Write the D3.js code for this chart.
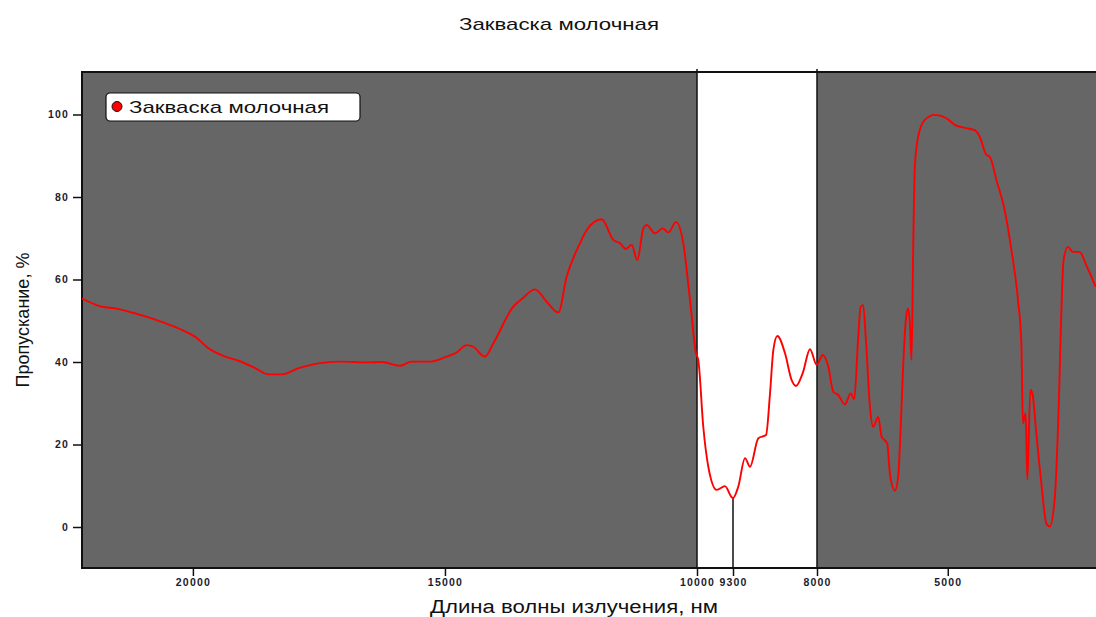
<!DOCTYPE html>
<html>
<head>
<meta http-equiv="Content-Type" content="text/html;charset=utf-8">
<title>Закваска молочная</title>
<style>
body { margin: 0; background: #fff; font-family: Arial, "Liberation Sans", sans-serif; }
</style>
</head>
<body>
<svg id="chart" width="1096" height="617"></svg>
<script src="https://cdn.jsdelivr.net/npm/d3@7"></script>
<script>
// wavelength (nm), left to right
var wavelength = [22200, 21805, 21541, 21210, 20878, 20549, 20218, 19954, 19688, 19359,
  19093, 18763, 18497, 18234, 17902, 17440, 17043, 16581, 16250, 15892,
  15660, 15297, 14966, 14768, 14569, 14438, 14206, 14041, 13645, 13446,
  13214, 12982, 12752, 12585, 12321, 12188, 11891, 11661, 11528, 11409,
  11296, 11184, 11065, 10998, 10833, 10681, 10569, 10417, 10272, 10139,
  10020, 9975, 9878, 9780, 9617, 9456, 9325, 9300, 9218, 9114,
  9037, 8908, 8789, 8727, 8676, 8614, 8495, 8392, 8325, 8221,
  8108, 8005, 7869, 7741, 7627, 7512, 7359, 7228, 7146, 7054,
  6999, 6940, 6878, 6786, 6711, 6596, 6518, 6390, 6328, 6214,
  6138, 6083, 6024, 5962, 5909, 5870, 5831, 5795, 5756, 5680,
  5527, 5298, 5030, 4840, 4572, 4382, 4267, 4114, 4038, 3885,
  3695, 3541, 3390, 3312, 3276, 3214, 3175, 3106, 3060, 2969,
  2854, 2740, 2664, 2550, 2451, 2396, 2344, 2245, 2131, 1977,
  1824, 1611];
// transmittance (%)
var transmittance = [55.4, 53.4, 53.0, 52.0, 50.8, 49.4, 47.8, 46.1, 43.3, 41.3,
  40.3, 38.5, 37.0, 37.0, 38.5, 39.8, 40.1, 39.9, 40.0, 39.1,
  40.1, 40.1, 41.3, 42.3, 44.1, 43.7, 41.3, 44.5, 53.4, 55.6,
  57.6, 54.6, 52.0, 60.7, 68.8, 72.0, 74.6, 69.6, 68.8, 67.4,
  68.4, 64.7, 72.4, 73.2, 71.2, 72.4, 71.4, 73.9, 68.8, 55.0,
  42.1, 40.5, 24.3, 14.6, 9.0, 9.9, 7.2, 7.0, 9.8, 16.7,
  14.6, 21.5, 22.3, 32.4, 42.9, 46.3, 42.1, 35.6, 34.2, 37.3,
  43.1, 39.3, 41.7, 38.9, 32.8, 32.0, 29.7, 32.4, 31.0, 46.1,
  53.4, 53.8, 45.3, 29.2, 24.3, 26.7, 21.9, 20.3, 13.0, 8.8,
  12.2, 23.5, 38.9, 50.2, 53.0, 49.4, 40.5, 66.4, 87.3, 94.6,
  98.7, 99.9, 99.1, 97.5, 96.7, 96.2, 94.6, 90.2, 89.8, 84.1,
  76.8, 67.2, 55.0, 44.5, 25.1, 27.6, 11.4, 33.2, 32.4, 22.7,
  10.6, 0.9, 0.1, 6.5, 30.8, 51.8, 64.7, 67.9, 66.7, 66.7,
  63.5, 58.3];

var xTicks = [20000, 15000, 10000, 9300, 8000, 5000];
var yTicks = [0, 20, 40, 60, 80, 100];
var bandEdges = [10000, 8000];   // the white window
var markWave = 9300;             // marked minimum

var title = "Закваска молочная";
var seriesName = "Закваска молочная";
var xLabel = "Длина волны излучения, нм";
var yLabel = "Пропускание, %";

// plot box ("top" is taken by window.top, so prefix everything)
var plotL = 82, plotR = 1096, plotT = 72, plotB = 568;

var svg = d3.select("#chart");

// piecewise axis, as in the original
var x = d3.scaleLinear()
    .domain([22200, 10000, 9300, 8000, 1600])
    .range([82, 697, 733, 817, 1096]);
var y = d3.scaleLinear()
    .domain([0, 100])
    .range([527, 114.5]);

var data = wavelength.map(function(w, i) { return {w: w, t: transmittance[i]}; });

// title
svg.append("text")
    .attr("x", 459).attr("y", 30)
    .attr("textLength", 200)
    .attr("lengthAdjust", "spacingAndGlyphs")
    .style("font-size", "17px")
    .style("fill", "#111")
    .text(title);

// plot background
svg.append("rect")
    .attr("x", plotL).attr("y", plotT)
    .attr("width", plotR - plotL + 4).attr("height", plotB - plotT)
    .attr("fill", "#666666");

// white window between 10000 and 8000
svg.append("rect")
    .attr("x", x(bandEdges[0])).attr("y", plotT)
    .attr("width", x(bandEdges[1]) - x(bandEdges[0])).attr("height", plotB - plotT)
    .attr("fill", "#ffffff");

// frame
svg.append("rect")
    .attr("x", plotL).attr("y", plotT)
    .attr("width", plotR - plotL + 4).attr("height", plotB - plotT)
    .attr("fill", "none")
    .attr("stroke", "#111")
    .attr("stroke-width", 2);

// window edges
svg.selectAll("line.edge")
    .data(bandEdges)
  .enter().append("line")
    .attr("class", "edge")
    .attr("x1", function(d) { return x(d); })
    .attr("x2", function(d) { return x(d); })
    .attr("y1", plotT - 3).attr("y2", plotB)
    .attr("stroke", "#111")
    .attr("stroke-width", 1.5);

// drop line at the minimum
var minPoint = data.filter(function(d) { return d.w === markWave; })[0];
svg.append("line")
    .attr("x1", x(markWave)).attr("x2", x(markWave))
    .attr("y1", y(minPoint.t)).attr("y2", plotB)
    .attr("stroke", "#111")
    .attr("stroke-width", 1.5);

// x axis
var xAxis = d3.axisBottom(x)
    .tickValues(xTicks)
    .tickSize(8)
    .tickPadding(3)
    .tickFormat(function(d) { return d; });
var gx = svg.append("g")
    .attr("transform", "translate(0," + plotB + ")")
    .call(xAxis);
gx.select(".domain").remove();

// y axis
var yAxis = d3.axisLeft(y)
    .tickValues(yTicks)
    .tickSize(9)
    .tickPadding(4);
var gy = svg.append("g")
    .attr("transform", "translate(" + plotL + ",0)")
    .call(yAxis);
gy.select(".domain").remove();

svg.selectAll(".tick line")
    .attr("stroke", "#111")
    .attr("stroke-width", 1.5);
svg.selectAll(".tick text")
    .style("font-family", "Arial, 'Liberation Sans', sans-serif")
    .style("font-size", "10.5px")
    .style("font-weight", "bold")
    .style("letter-spacing", "1.2px")
    .style("fill", "#1b1b30");

// curve
var line = d3.line()
    .x(function(d) { return x(d.w); })
    .y(function(d) { return y(d.t); })
    .curve(d3.curveMonotoneX);
svg.append("path")
    .datum(data)
    .attr("d", line)
    .attr("fill", "none")
    .attr("stroke", "#ff0000")
    .attr("stroke-width", 1.9)
    .attr("stroke-linejoin", "round");

// legend
var legend = svg.append("g").attr("transform", "translate(106,93)");
legend.append("rect")
    .attr("width", 254).attr("height", 28)
    .attr("rx", 4).attr("ry", 4)
    .attr("fill", "#fff")
    .attr("stroke", "#111")
    .attr("stroke-width", 1.2);
legend.append("circle")
    .attr("cx", 11).attr("cy", 13.5).attr("r", 5)
    .attr("fill", "#ff0000")
    .attr("stroke", "#111")
    .attr("stroke-width", 1);
legend.append("text")
    .attr("x", 23).attr("y", 20)
    .attr("textLength", 200)
    .attr("lengthAdjust", "spacingAndGlyphs")
    .style("font-size", "17px")
    .style("fill", "#111")
    .text(seriesName);

// axis titles
svg.append("text")
    .attr("x", 430).attr("y", 613)
    .attr("textLength", 288)
    .attr("lengthAdjust", "spacingAndGlyphs")
    .style("font-size", "18px")
    .style("fill", "#111")
    .text(xLabel);
svg.append("text")
    .attr("transform", "translate(29,320) rotate(-90)")
    .attr("text-anchor", "middle")
    .style("font-size", "18px")
    .style("fill", "#111")
    .text(yLabel);
</script>
</body>
</html>
